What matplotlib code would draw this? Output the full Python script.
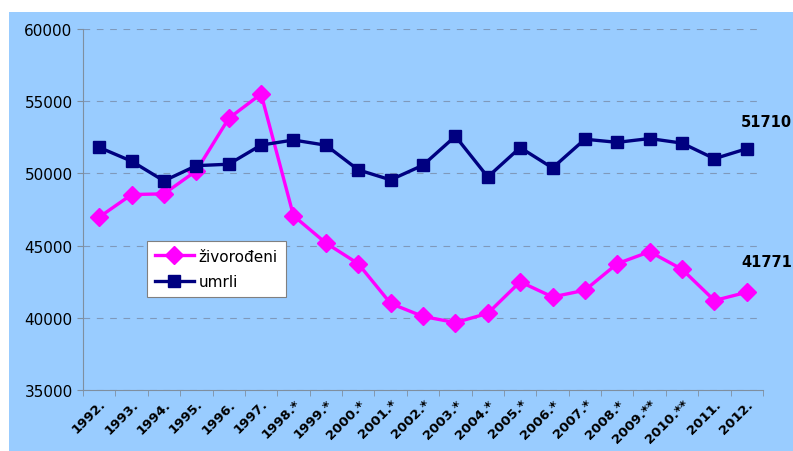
import numpy as np
import matplotlib.pyplot as plt
from matplotlib.patches import Rectangle

# Podaci
godine = ['1992.', '1993.', '1994.', '1995.', '1996.', '1997.', '1998.*', '1999.*',
          '2000.*', '2001.*', '2002.*', '2003.*', '2004.*', '2005.*', '2006.*',
          '2007.*', '2008.*', '2009.**', '2010.**', '2011.', '2012.']
zivorodeni = [46970, 48535, 48584, 50182, 53811, 55501, 47068, 45179, 43746, 40993,
              40094, 39668, 40307, 42492, 41446, 41910, 43753, 44577, 43361, 41197, 41771]
umrli = [51800, 50846, 49482, 50536, 50636, 51964, 52311, 51953, 50246, 49552,
         50569, 52575, 49756, 51790, 50378, 52367, 52151, 52414, 52096, 51019, 51710]

bg = '#99ccff'
fig = plt.figure(figsize=(7.93, 4.52), dpi=100, facecolor='white')
fig.patches.append(Rectangle((9 / 793, 0), 1, 1 - 13 / 452, transform=fig.transFigure,
                             facecolor=bg, edgecolor='none', zorder=-10))
ax = fig.add_axes([83 / 793, 1 - 391 / 452, 680 / 793, 361 / 452])
ax.set_facecolor(bg)

x = np.arange(len(godine))
ax.plot(x, zivorodeni, color='#ff00ff', lw=2.4, marker='D', markersize=9,
        label='živorođeni', zorder=3)
ax.plot(x, umrli, color='#000080', lw=2.4, marker='s', markersize=8,
        label='umrli', zorder=3)

ax.set_ylim(35000, 60000)
ax.set_yticks(np.arange(35000, 60001, 5000))
ax.set_xlim(-0.5, len(godine) - 0.5)
ax.set_xticks(x)
ax.set_xticklabels(godine, rotation=45, ha='right', rotation_mode='anchor',
                   fontsize=9.5, fontweight='bold')
ax.set_xticks(np.arange(-0.5, len(godine)), minor=True)
ax.tick_params(axis='x', which='major', length=0, pad=5)
ax.tick_params(axis='x', which='minor', length=4, color='#7f8fa0')
ax.tick_params(axis='y', length=4, color='#7f8fa0', labelsize=11)
ax.grid(axis='y', linestyle=(0, (6, 6)), color='#7f99bb', lw=0.8)

for s in ['top', 'right']:
    ax.spines[s].set_visible(False)
for s in ['left', 'bottom']:
    ax.spines[s].set_color('#7f8fa0')

ax.annotate(str(umrli[-1]), (x[-1], umrli[-1]), xytext=(-4, 16),
            textcoords='offset points', fontsize=10.5, fontweight='bold')
ax.annotate(str(zivorodeni[-1]), (x[-1], zivorodeni[-1]), xytext=(-4, 19),
            textcoords='offset points', fontsize=10.5, fontweight='bold')

leg = ax.legend(loc='upper left', bbox_to_anchor=(0.094, 0.413), borderaxespad=0,
                fontsize=11, fancybox=False, framealpha=1, edgecolor='#808080',
                handlelength=2.6, handletextpad=0.3, borderpad=0.5,
                labelspacing=0.7)
leg.get_frame().set_linewidth(0.8)

plt.savefig('out.png', dpi=100, facecolor=fig.get_facecolor())
